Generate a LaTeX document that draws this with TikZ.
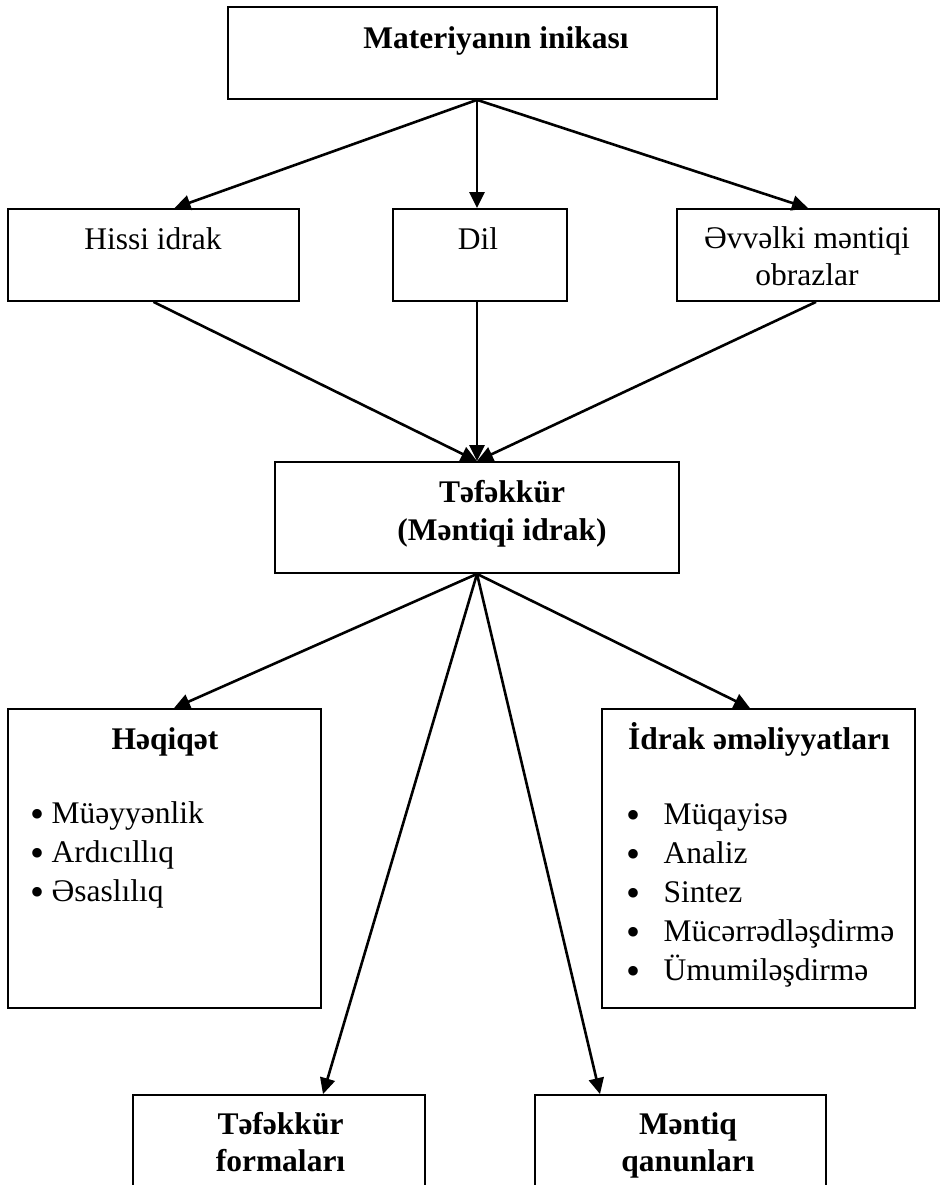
\documentclass[tikz,border=0pt]{standalone}
\usepackage{fontspec}
\setmainfont{Liberation Serif}
\usepackage{tikz}
\usetikzlibrary{arrows.meta,positioning}
\newcommand{\dotmark}{\raisebox{-4pt}{\fontsize{40}{40}\selectfont•}}

\begin{document}
\begin{tikzpicture}[x=1pt,y=-1pt,
  box/.style={draw,line width=1.8pt,inner sep=0pt},
  arr/.style={-{Triangle[length=16pt,width=15pt]},line width=2.6pt},
  txt/.style={anchor=base,align=center,font=\fontsize{31.5}{37}\selectfont},
  btxt/.style={txt,font=\fontsize{31.5}{37}\selectfont\bfseries},
  lst/.style={anchor=base west,align=left,font=\fontsize{31.5}{38.8}\selectfont}]
\useasboundingbox (0,0) rectangle (942,1185);
\clip (0,0) rectangle (942,1185);
% boxes
\node[box,minimum width=489pt,minimum height=92pt] (inikas) at (472.5,53) {};
\node[box,minimum width=291pt,minimum height=92pt] (hissi) at (153.5,255) {};
\node[box,minimum width=174pt,minimum height=92pt] (dil) at (480,255) {};
\node[box,minimum width=262pt,minimum height=92pt] (evvel) at (808,255) {};
\node[box,minimum width=404pt,minimum height=111pt] (tefek) at (477,517.5) {};
\node[box,minimum width=313pt,minimum height=299pt] (heqiq) at (164.5,858.5) {};
\node[box,minimum width=313pt,minimum height=299pt] (idrak) at (758.5,858.5) {};
\node[box,minimum width=292pt,minimum height=130pt] (forma) at (279,1160) {};
\node[box,minimum width=291pt,minimum height=130pt] (qanun) at (680.5,1160) {};
% texts (multi-line: base = last line)
\node[btxt] (inikas-t) at (496,49) {Materiyanın inikası};
\node[txt] (hissi-t) at (153,249) {Hissi idrak};
\node[txt] (dil-t) at (478,249) {Dil};
\node[txt] (evvel-t) at (807,285) {Əvvəlki məntiqi\\obrazlar};
\node[btxt,font=\fontsize{31.5}{38}\selectfont\bfseries] (tefek-t) at (502,540) {Təfəkkür\\ (Məntiqi idrak)};
\node[btxt] (heqiq-t) at (165,749) {Həqiqət};
\node[btxt] (idrak-t) at (759,749) {İdrak əməliyyatları};
\node[lst] (heqiq-l) at (27,901) {\makebox[21pt][l]{\dotmark}Müəyyənlik\\\makebox[21pt][l]{\dotmark}Ardıcıllıq\\\makebox[21pt][l]{\dotmark}Əsaslılıq};
\node[lst] (idrak-l) at (623,980) {\makebox[37pt][l]{\dotmark}Müqayisə\\\makebox[37pt][l]{\dotmark}Analiz\\\makebox[37pt][l]{\dotmark}Sintez\\\makebox[37pt][l]{\dotmark}Mücərrədləşdirmə\\\makebox[37pt][l]{\dotmark}Ümumiləşdirmə};
\node[btxt] (forma-t) at (280.5,1171) {Təfəkkür\\formaları};
\node[btxt] (qanun-t) at (688,1171) {Məntiq\\qanunları};
% connectors
\draw[arr] ([xshift=4.5pt]inikas.south) -- ([xshift=21pt]hissi.north);
\draw[arr] ([xshift=4.5pt]inikas.south) -- ([xshift=-3pt]dil.north);
\draw[arr] ([xshift=4.5pt]inikas.south) -- (evvel.north);
\draw[arr] (hissi.south) -- (tefek.north);
\draw[arr] ([xshift=-3pt]dil.south) -- (tefek.north);
\draw[arr] ([xshift=8pt]evvel.south) -- (tefek.north);
\draw[arr] (tefek.south) -- ([xshift=9.5pt]heqiq.north);
\draw[arr] (tefek.south) -- ([xshift=-8.5pt]idrak.north);
\draw[arr] (tefek.south) -- ([xshift=44pt]forma.north);
\draw[arr] (tefek.south) -- ([xshift=-80.5pt]qanun.north);
\end{tikzpicture}
\end{document}
